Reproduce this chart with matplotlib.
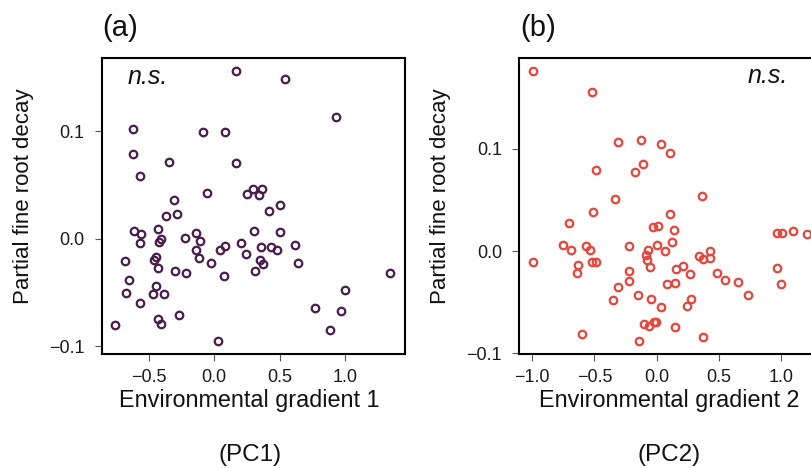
import matplotlib
matplotlib.use("Agg")
import matplotlib.pyplot as plt

plt.rcParams['font.family'] = ['Liberation Sans', 'DejaVu Sans']

# ---- data: panel (a) PC1 ----
pc1_x = [0.166, 0.543, 0.931, -0.625, -0.087, 0.084, -0.620, -0.349, 0.166, -0.569,
         -0.054, 0.253, 0.293, 0.365, 0.339, -0.311, 0.505, 0.416, -0.372, -0.288,
         -0.612, -0.564, -0.569, -0.429, -0.411, -0.421, -0.224, -0.140, -0.112, -0.140,
         -0.117, -0.028, 0.043, 0.084, 0.204, 0.240, 0.304, 0.355, 0.434, 0.482,
         0.505, 0.615, 0.640, 0.352, 0.375, 0.311, 0.071, -0.217, -0.304, -0.429,
         -0.446, -0.464, -0.686, -0.651, -0.673, -0.569, -0.444, -0.467, -0.385, -0.429,
         -0.406, -0.268, -0.763, 0.028, 1.347, 1.000, 0.773, 0.972, 0.888]
pc1_y = [0.156, 0.148, 0.113, 0.1015, 0.099, 0.099, 0.0786, 0.0709, 0.070, 0.0579,
         0.0427, 0.0412, 0.0464, 0.0464, 0.0409, 0.0362, 0.0316, 0.0254, 0.0214, 0.0226,
         0.0071, 0.0046, -0.0037, 0.009, -0.0003, -0.0031, 0.0003, 0.0056, -0.0022, -0.0108,
         -0.018, -0.0223, -0.0102, -0.0065, -0.0043, -0.0139, 0.0071, -0.008, -0.0074, -0.0105,
         0.0062, -0.0056, -0.0226, -0.0195, -0.0238, -0.0303, -0.0347, -0.0322, -0.0297, -0.0272,
         -0.017, -0.0195, -0.0207, -0.0387, -0.0508, -0.0598, -0.0443, -0.0514, -0.0514, -0.0743,
         -0.0789, -0.0709, -0.0802, -0.0947, -0.0319, -0.0474, -0.0641, -0.0672, -0.0845]

# ---- data: panel (b) PC2 ----
pc2_x = [-0.997, -0.516, -0.997, -0.307, -0.123, 0.032, 0.107, -0.487, -0.110, -0.171,
         -0.337, 0.364, -0.508, 0.107, -0.701, -0.032, 0.011, 0.142, 0.126, -0.749,
         -0.690, -0.570, -0.537, -0.225, 0.003, 0.070, -0.070, -0.088, -0.075, -0.053,
         -0.521, -0.489, -0.634, -0.639, -0.219, -0.225, -0.307, -0.350, -0.150, -0.043,
         0.037, 0.083, 0.150, 0.152, 0.209, 0.267, 0.342, 0.372, 0.428, 0.430,
         0.489, 0.548, 0.652, 0.735, 0.273, 0.243, -0.102, -0.059, -0.019, -0.005,
         0.144, -0.596, -0.139, 0.369, 0.965, 1.008, 1.099, 1.209, 0.968, 0.997]
pc2_y = [0.176, 0.155, -0.0107, 0.1065, 0.1085, 0.1049, 0.0958, 0.0792, 0.0853, 0.0769,
         0.0505, 0.0541, 0.0384, 0.0362, 0.027, 0.0231, 0.0241, 0.0208, 0.0085, 0.0059,
         0.0013, 0.0052, 0.001, 0.0046, 0.0059, 0.0003, 0.001, -0.0039, -0.0088, -0.016,
         -0.0104, -0.0111, -0.0134, -0.0212, -0.0192, -0.029, -0.0349, -0.0479, -0.0427, -0.0466,
         -0.055, -0.0326, -0.0309, -0.0176, -0.0143, -0.0221, -0.0049, -0.0078, -0.0003, -0.0068,
         -0.0215, -0.028, -0.0303, -0.0433, -0.0469, -0.0541, -0.0717, -0.0736, -0.0691, -0.0697,
         -0.0743, -0.0814, -0.0876, -0.0837, 0.0173, 0.0173, 0.0195, 0.0166, -0.0163, -0.0322]

x_ticks_a = [-0.5, 0.0, 0.5, 1.0]
x_ticks_b = [-1.0, -0.5, 0.0, 0.5, 1.0]
y_ticks = [-0.1, 0.0, 0.1]

W, H = 811, 468
fig = plt.figure(figsize=(W / 100, H / 100), dpi=100)


def fx(px):
    return px / W


def fy(py):
    return 1 - py / H


def fmt(v):
    return f"{v:.1f}".replace('-', '\u2212')


def style_axes(ax):
    for s in ax.spines.values():
        s.set_linewidth(1.5)
        s.set_color('black')
    ax.tick_params(axis='both', direction='out', length=5, width=0.8,
                   color='#555555', labelcolor='#1a1a1a', labelsize=13)
    ax.tick_params(axis='x', pad=5.5)
    ax.tick_params(axis='y', pad=7.5)


# panel a
ax1 = fig.add_axes([fx(101.7), fy(354), fx(405 - 101.7), (354 - 58) / H])
ax1.plot(pc1_x, pc1_y, linestyle='none', marker='o', ms=5.4, mfc='none',
         mec='#4a1b4d', mew=1.6)
ax1.set_xlim(-0.861, 1.458)
ax1.set_ylim(-0.107, 0.1678)
ax1.set_xticks(x_ticks_a)
ax1.set_xticklabels([fmt(v) for v in x_ticks_a])
ax1.set_yticks(y_ticks)
ax1.set_yticklabels([fmt(v) for v in y_ticks])
style_axes(ax1)

# panel b
ax2 = fig.add_axes([fx(519.3), fy(354), fx(405 - 101.7), (354 - 58) / H])
ax2.plot(pc2_x, pc2_y, linestyle='none', marker='o', ms=5.4, mfc='none',
         mec='#e8453c', mew=1.6)
ax2.set_xlim(-1.104, 1.334)
ax2.set_ylim(-0.1007, 0.1887)
ax2.set_xticks(x_ticks_b)
ax2.set_xticklabels([fmt(v) for v in x_ticks_b])
ax2.set_yticks(y_ticks)
ax2.set_yticklabels([fmt(v) for v in y_ticks])
style_axes(ax2)

txt = '#111111'
# panel letters
fig.text(fx(102.5), fy(36.5), '(a)', fontsize=21, ha='left', va='baseline', color=txt)
fig.text(fx(520), fy(36.5), '(b)', fontsize=21, ha='left', va='baseline', color=txt)

# x labels
fig.text(fx(249.7), fy(406.7), 'Environmental gradient 1', fontsize=16.8,
         ha='center', va='baseline', color=txt)
fig.text(fx(669.5), fy(406.7), 'Environmental gradient 2', fontsize=16.8,
         ha='center', va='baseline', color=txt)
fig.text(fx(250), fy(461.5), '(PC1)', fontsize=17.5, ha='center', va='baseline', color=txt)
fig.text(fx(669), fy(461.5), '(PC2)', fontsize=17.5, ha='center', va='baseline', color=txt)

# y labels
fig.text(fx(29), fy(196), 'Partial fine root decay', fontsize=16, rotation=90,
         rotation_mode='anchor', ha='center', va='baseline', color=txt)
fig.text(fx(446), fy(196), 'Partial fine root decay', fontsize=16, rotation=90,
         rotation_mode='anchor', ha='center', va='baseline', color=txt)

# n.s.
fig.text(fx(127.3), fy(84), 'n.s.', fontsize=18, style='italic', ha='left',
         va='baseline', color=txt)
fig.text(fx(748), fy(83.3), 'n.s.', fontsize=18, style='italic', ha='left',
         va='baseline', color=txt)

fig.savefig('out.png', dpi=100)
